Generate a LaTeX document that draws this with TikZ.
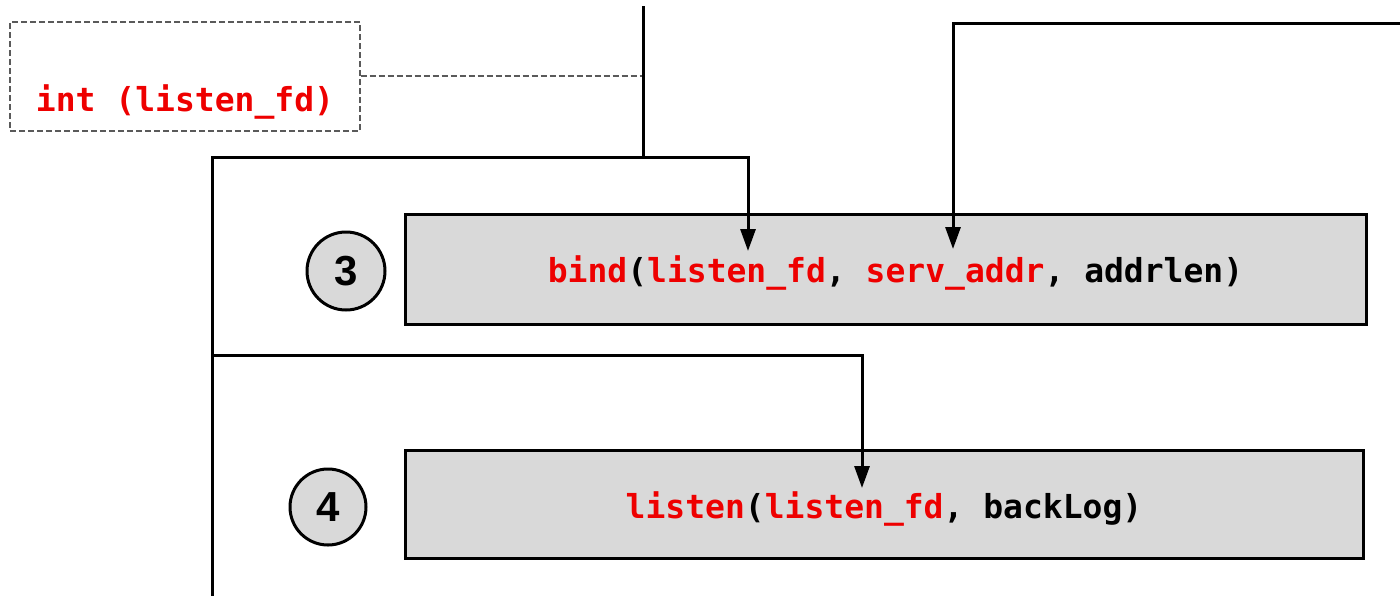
\documentclass[tikz,border=0pt]{standalone}
\usepackage{fontspec}
\setmonofont{DejaVu Sans Mono}
\setsansfont{Liberation Sans}
\usetikzlibrary{arrows.meta,calc}
\definecolor{boxgray}{HTML}{D9D9D9}
\definecolor{codered}{HTML}{EE0000}
\definecolor{dashgray}{HTML}{5A5A5A}
\tikzset{
  wire/.style={line width=1.5pt, line cap=rect},
  arr/.style={wire, -{Triangle[length=11pt,width=7.5pt]}},
  callbox/.style={draw, line width=1.5pt, fill=boxgray, inner sep=0pt,
    font=\fontsize{16.5}{20}\selectfont\ttfamily\bfseries},
  stepnum/.style={draw, line width=1.5pt, fill=boxgray, circle, inner sep=0pt,
    minimum size=39pt, font=\fontsize{21}{24}\selectfont\sffamily\bfseries},
  lblbox/.style={draw=dashgray, dash pattern=on 3pt off 1.5pt, line width=0.7pt, inner sep=0pt,
    minimum width=175pt, minimum height=54.5pt},
  dashwire/.style={draw=dashgray, dash pattern=on 3pt off 1.5pt, line width=0.7pt},
}
\newcommand{\rd}[1]{\textcolor{codered}{#1}}
\begin{document}
\begin{tikzpicture}[x=0.5pt,y=-0.5pt]
\useasboundingbox (0,0) rectangle (1400,595);
% label box
\node[lblbox] (lbl) at (185,76.5) {};
\node[font=\fontsize{16.5}{20}\selectfont\ttfamily\bfseries, text=codered, anchor=base] (lbltxt) at (185,111) {int (listen\_fd)};
% boxes
\node[callbox, minimum width=480.5pt, minimum height=55pt] (b3) at (885.5,269) {\hspace*{10pt}\raisebox{-6.5pt}[0pt][0pt]{\rd{bind}(\rd{listen\_fd}, \rd{serv\_addr}, addrlen)}};
\node[callbox, minimum width=479pt, minimum height=54pt] (b4) at (884,504) {\raisebox{-7pt}[0pt][0pt]{\rd{listen}(\rd{listen\_fd}, backLog)}};
\node[stepnum] (c3) at (346,271) {3};
\node[stepnum, minimum size=38pt] (c4) at (328,507) {4};
% coordinates
\coordinate (top) at (643,7);
\coordinate (j1) at (643,157);
\coordinate (j0) at (643,76);
\coordinate (l1) at (212,157);
\coordinate (l2) at (212,355);
\coordinate (bot) at (212,596);
\coordinate (t1) at (748,251);
\coordinate (t2) at (862,488);
\coordinate (rin) at (1401,23);
\coordinate (t3) at (953,249);
% wires
\draw[dashwire] (lbl.east |- j0) -- (j0);
\draw[wire] (top) -- (j1);
\draw[wire] (l1) -- (bot);
\draw[arr] (l1) -- (j1) -| (t1);
\draw[arr] (l2) -| (t2);
\draw[arr] (rin) -| (t3);
\end{tikzpicture}
\end{document}
